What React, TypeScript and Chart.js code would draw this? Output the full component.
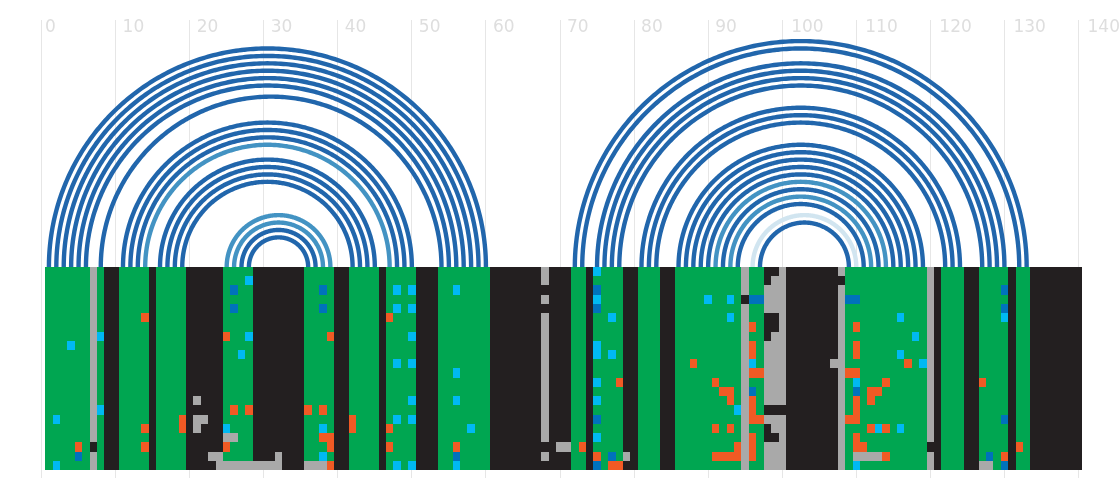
import React, { useEffect, useRef } from "react";
import { Chart, registerables } from "chart.js";

Chart.register(...registerables);

// Base-pair arcs: [left column, right column]
const darkPairs: [number, number][] = [
  [1, 60], [2, 59], [3, 58], [4, 57], [5, 56], [6, 55], [8, 54],
  [11, 50], [12, 49], [13, 48], [16, 45], [17, 44], [18, 43], [19, 42],
  [27, 37], [28, 36],
  [72, 133], [73, 132], [75, 130], [76, 129], [77, 128], [78, 127],
  [81, 124], [82, 123], [83, 122],
  [86, 119], [87, 118], [88, 117], [89, 116], [90, 115], [92, 113], [94, 111], [97, 109],
];
const lightPairs: [number, number][] = [[14, 47], [25, 39], [26, 38], [91, 114], [93, 112]];
const palePairs: [number, number][] = [[96, 110]];

// Alignment columns
const greenRuns: [number, number][] = [
  [1, 6], [8, 8], [11, 14], [16, 19], [25, 28], [36, 39], [42, 45], [47, 50], [54, 60],
  [72, 73], [75, 78], [81, 83], [86, 94], [96, 97], [109, 119], [122, 124], [127, 130], [132, 133],
];
const grayColumns = [7, 68, 95, 98, 99, 100, 108, 120];

// Single cells, one list of columns per row (row 1 first)
const blackByRow: number[][] = [
  [98, 99], [98, 108], [68], [95], [68], [98, 99], [98, 99], [98], [], [], [],
  [], [], [], [], [98, 99, 100], [], [98], [98, 99], [7, 68, 120], [], [68],
];
const grayByRow: number[][] = [
  [], [], [], [], [], [], [], [], [], [], [107],
  [], [], [], [21], [], [21, 22], [21], [25, 26], [70, 71],
  [23, 24, 32, 79, 110, 111, 112, 113],
  [24, 25, 26, 27, 28, 29, 30, 31, 32, 36, 37, 38, 127, 128],
];
const orangeByRow: number[][] = [
  [], [], [], [], [], [14, 47], [96, 110], [25, 39], [96, 110], [96, 110], [88, 117],
  [96, 97, 109, 110], [78, 91, 114, 127], [92, 93, 112, 113], [93, 96, 110, 112],
  [26, 28, 36, 38, 96, 110], [19, 42, 96, 97, 109, 110], [14, 19, 42, 47, 91, 93, 112, 114],
  [38, 39, 96, 110], [5, 14, 25, 39, 47, 56, 73, 94, 96, 110, 111, 132],
  [75, 91, 92, 93, 94, 96, 114, 130], [39, 77, 78],
];
const cyanByRow: number[][] = [
  [75], [28], [48, 50, 56], [75, 90, 93], [48, 50], [77, 93, 116, 130], [], [8, 28, 50, 118],
  [4, 75], [27, 75, 77, 116], [48, 50, 96, 119], [56], [75, 110], [], [50, 56, 75], [8, 94],
  [2, 48, 50], [25, 38, 58, 113, 116], [75], [], [38], [2, 48, 50, 56, 110],
];
const blueByRow: number[][] = [
  [], [], [26, 38, 75, 130], [96, 97, 109, 110], [26, 38, 75, 130], [], [], [], [], [], [],
  [], [], [96, 110], [], [], [75, 130], [], [], [], [5, 56, 77, 128], [75, 130],
];

const tickValues = [0, 10, 20, 30, 40, 50, 60, 70, 80, 90, 100, 110, 120, 130, 140];
const columnCount = 140;
const rowCount = 22;

const COLORS = {
  dark: "#2166ac", light: "#4393c3", pale: "#d1e5f0",
  black: "#231f20", green: "#00a651", gray: "#a9a9a9",
  orange: "#f15a24", cyan: "#00b9f2", blue: "#0072bc",
};

// page geometry
const PX_PER_UNIT = 7.4072;
const X_ZERO = 41.5;
const BASELINE = 267;
const ROW_PX = 9.227;
const TOP = 20;
const BOTTOM = 478;
const W = 1120;
const H = 496;

function arcData([a, b]: [number, number]) {
  const c = (a + b) / 2;
  const r = (b - a) / 2;
  const pts: { x: number; y: number }[] = [];
  const n = 120;
  for (let i = 0; i <= n; i++) {
    const t = (Math.PI * i) / n;
    pts.push({ x: c - r * Math.cos(t), y: r * Math.sin(t) });
  }
  return pts;
}

const arcSet = (pairs: [number, number][], color: string) =>
  pairs.map((p) => ({
    type: "line" as const,
    data: arcData(p),
    borderColor: color,
    borderWidth: 4.4,
    pointRadius: 0,
    tension: 0.001,
    fill: false,
    yAxisID: "y",
    borderCapStyle: "butt" as const,
  }));

const barSet = (data: { x: number; y: [number, number] }[], color: string) => ({
  type: "bar" as const,
  data,
  backgroundColor: color,
  yAxisID: "yRows",
  grouped: false,
  barPercentage: 1,
  categoryPercentage: 1,
  borderWidth: 0,
  inflateAmount: 0,
});

const cellsFrom = (byRow: number[][]) =>
  byRow.flatMap((cols, r) => cols.map((x) => ({ x, y: [r, r + 1] as [number, number] })));

const fullColumns = (cols: number[]) =>
  cols.map((x) => ({ x, y: [0, rowCount] as [number, number] }));

const expand = (runs: [number, number][]) =>
  runs.flatMap(([a, b]) => Array.from({ length: b - a + 1 }, (_, i) => a + i));

// Tick labels sit just right of their grid lines, inside the plot's top edge.
const tickLabelPlugin = {
  id: "tickLabelPlacement",
  beforeDraw(chart: any) {
    const scale = chart.scales.x;
    const items = scale.getLabelItems(chart.chartArea);
    const shift: Record<number, number> = { 1: 3.5, 2: 7, 3: 9 };
    items.forEach((item: any, i: number) => {
      const text = String(item.label);
      const tick = scale.ticks[i];
      item.textOffset = 0;
      item.options.textAlign = "left";
      item.options.textBaseline = "middle";
      item.options.translation = [scale.getPixelForValue(tick.value) + shift[text.length], 28];
    });
  },
};

// Cell edges land on whole pixels, so neighbouring cells join without seams.
const crispCellsPlugin = {
  id: "crispCells",
  beforeDatasetsDraw(chart: any) {
    chart.getSortedVisibleDatasetMetas().forEach((meta: any) => {
      if (meta.type !== "bar") return;
      meta.data.forEach((el: any) => {
        const left = Math.round(el.x - el.width / 2);
        const right = Math.round(el.x + el.width / 2);
        el.x = (left + right) / 2;
        el.width = right - left;
        el.y = Math.round(el.y);
        el.base = Math.round(el.base);
        el.height = el.base - el.y;
      });
    });
  },
};

export default function App() {
  const ref = useRef<HTMLCanvasElement>(null);
  useEffect(() => {
    const allColumns = Array.from({ length: columnCount }, (_, i) => i + 1);
    const chart = new Chart(ref.current as HTMLCanvasElement, {
      type: "bar",
      data: {
        // Chart.js paints the first dataset last, so the topmost layer comes first.
        datasets: [
          barSet(cellsFrom(blueByRow), COLORS.blue),
          barSet(cellsFrom(cyanByRow), COLORS.cyan),
          barSet(cellsFrom(orangeByRow), COLORS.orange),
          barSet(cellsFrom(grayByRow), COLORS.gray),
          barSet(cellsFrom(blackByRow), COLORS.black),
          barSet(fullColumns(grayColumns), COLORS.gray),
          barSet(fullColumns(expand(greenRuns)), COLORS.green),
          barSet(fullColumns(allColumns), COLORS.black),
          ...arcSet(darkPairs, COLORS.dark),
          ...arcSet(lightPairs, COLORS.light),
          ...arcSet(palePairs, COLORS.pale),
        ] as any,
      },
      options: {
        animation: false,
        responsive: false,
        devicePixelRatio: 1,
        layout: { padding: { top: TOP, bottom: H - BOTTOM, left: 0, right: 0 } },
        plugins: { legend: { display: false }, tooltip: { enabled: false } },
        events: [],
        scales: {
          x: {
            type: "linear",
            position: "top",
            offset: false,
            min: -X_ZERO / PX_PER_UNIT,
            max: (W - X_ZERO) / PX_PER_UNIT,
            afterFit: (s: any) => {
              s.height = 0;
            },
            afterBuildTicks: (s: any) => {
              s.ticks = tickValues.map((value) => ({ value }));
            },
            grid: { color: "#e6e6e6", lineWidth: 1, drawTicks: false, offset: false },
            border: { display: false },
            ticks: {
              autoSkip: false,
              maxRotation: 0,
              minRotation: 0,
              align: "start",
              mirror: true,
              padding: 0,
              color: "#dedede",
              font: { family: "'DejaVu Sans'", size: 17 },
              callback: (v: any) => String(v),
            },
          },
          y: {
            type: "linear",
            display: false,
            min: (BASELINE - BOTTOM) / PX_PER_UNIT,
            max: (BASELINE - TOP) / PX_PER_UNIT,
          },
          yRows: {
            type: "linear",
            axis: "y",
            display: false,
            reverse: true,
            min: -(BASELINE - TOP) / ROW_PX,
            max: (BOTTOM - BASELINE) / ROW_PX,
          },
        },
      } as any,
      plugins: [tickLabelPlugin, crispCellsPlugin],
    });
    return () => chart.destroy();
  }, []);
  return (
    <div style={{ position: "absolute", left: 0, top: 0, width: W, height: H, background: "#fff" }}>
      <canvas ref={ref} width={W} height={H} style={{ display: "block", width: W, height: H }} />
    </div>
  );
}
